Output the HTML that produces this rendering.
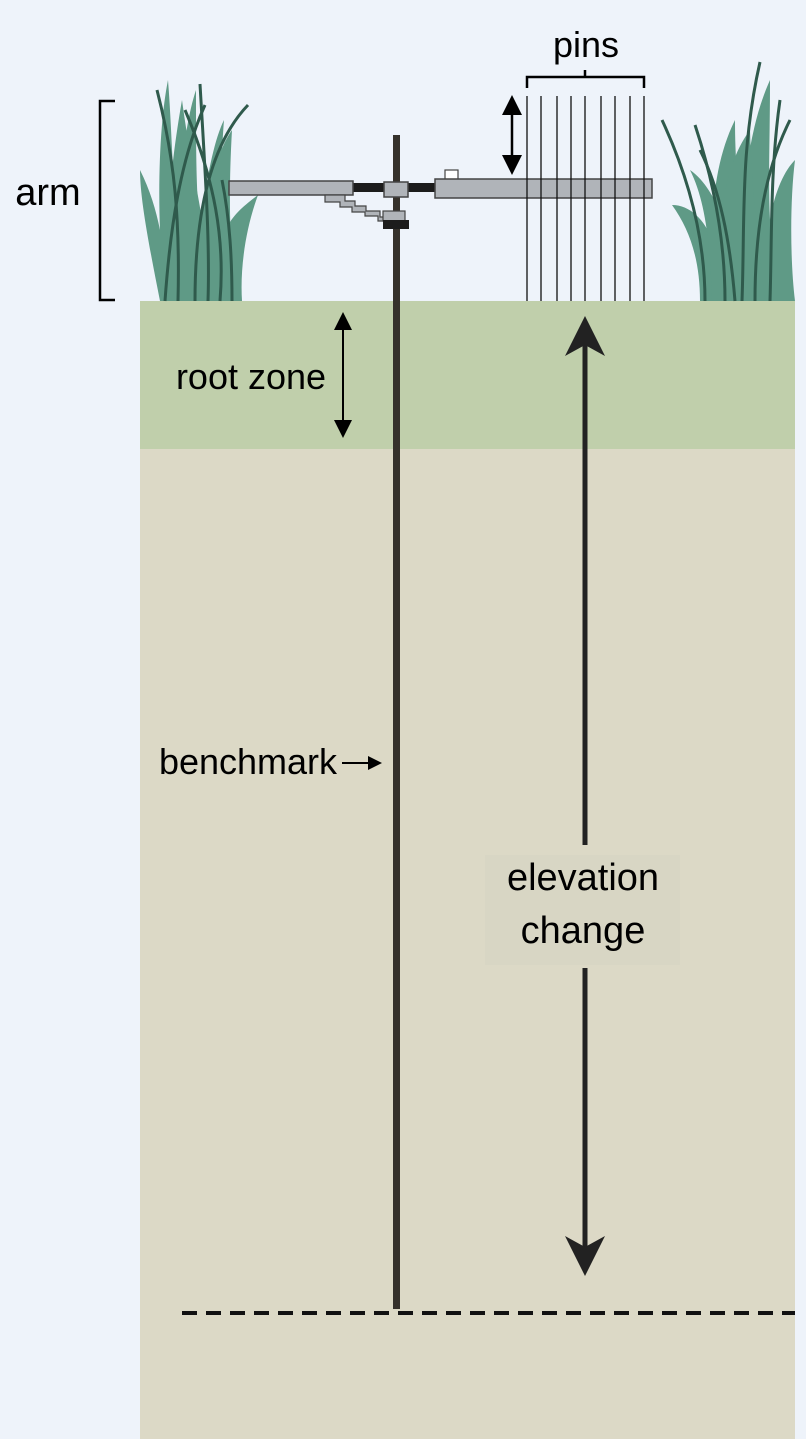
<!DOCTYPE html>
<html><head><meta charset="utf-8"><style>
html,body{margin:0;padding:0;background:#eef3fa;}
svg{display:block;}
text{font-family:"Liberation Sans",sans-serif;fill:#000;}
</style></head><body>
<svg width="806" height="1439" viewBox="0 0 806 1439" xmlns="http://www.w3.org/2000/svg">
<rect width="806" height="1439" fill="#eef3fa"/>
<rect x="140" y="301" width="655" height="148" fill="#c0cfab"/>
<rect x="140" y="449" width="655" height="990" fill="#dcd9c6"/>
<!-- grass left -->
<g fill="#5f9a86">
<path d="M160 301 C150 250 140 200 140 170 C150 190 156 210 160 230 C158 180 160 120 168 80 C172 130 172 180 178 220 C180 170 186 120 196 90 C196 150 196 190 200 230 C206 180 214 140 224 120 C220 170 222 200 226 230 C232 215 245 205 258 195 C245 230 240 270 242 301 Z"/>
<path d="M170 301 C165 240 168 180 182 100 C190 160 200 200 205 240 C210 180 218 150 232 130 C228 200 230 250 236 301 Z"/>
</g>
<g stroke="#2f5a4c" stroke-width="3" fill="none">
<path d="M165 301 C170 230 180 160 205 105"/>
<path d="M178 301 C180 220 175 160 157 90"/>
<path d="M195 301 C195 230 205 150 248 105"/>
<path d="M208 301 C210 240 205 170 200 84"/>
<path d="M220 301 C225 240 215 180 185 110"/>
<path d="M232 301 C232 260 230 220 222 180"/>
</g>
<!-- grass right -->
<g fill="#5f9a86">
<path d="M700 301 C700 260 690 230 672 205 C690 205 705 220 712 240 C712 190 720 150 735 120 C735 160 738 190 742 220 C745 170 752 120 770 80 C770 140 768 180 770 220 C775 190 785 170 795 160 C790 200 790 260 795 301 Z"/>
<path d="M712 301 C710 240 705 200 690 170 C705 180 715 200 722 215 C725 180 735 150 750 130 C752 200 760 250 765 301 Z"/>
</g>
<g stroke="#2f5a4c" stroke-width="3" fill="none">
<path d="M705 301 C705 240 690 180 662 120"/>
<path d="M725 301 C725 230 710 170 695 125"/>
<path d="M742 301 C745 220 740 150 760 62"/>
<path d="M755 301 C755 230 765 170 790 120"/>
<path d="M770 301 C772 240 770 170 780 100"/>
<path d="M735 301 C730 240 720 190 700 150"/>
</g>
<path d="M115 101 H100 V300 H115" stroke="#000" stroke-width="2.5" fill="none"/>
<text x="48" y="205" font-size="38" text-anchor="middle">arm</text>
<rect x="393" y="135" width="7" height="1174" fill="#35312b"/>
<rect x="352" y="183" width="84" height="9" fill="#1c1c1c"/>
<rect x="229" y="181" width="124" height="14" fill="#b0b4b9" stroke="#444" stroke-width="1.5"/>
<rect x="384" y="182" width="24" height="15" fill="#b0b4b9" stroke="#444" stroke-width="1.5"/>
<path d="M325 195 H345 V201 H355 V206 H366 V211 L380 211 V217 H386 V221 H378 V216 H365 V212 H352 V207 H340 V202 H325 Z" fill="#b0b4b9" stroke="#444" stroke-width="1.2"/>
<rect x="383" y="211" width="22" height="10" fill="#b0b4b9" stroke="#444" stroke-width="1.2"/>
<rect x="383" y="220" width="26" height="9" fill="#1c1c1c"/>
<rect x="445" y="170" width="13" height="10" fill="#fff" stroke="#444" stroke-width="1.2"/>
<rect x="435" y="179" width="217" height="19" fill="#b0b4b9" stroke="#444" stroke-width="1.5"/>
<g stroke="#111" stroke-width="1.3">
<line x1="527" y1="96" x2="527" y2="301"/><line x1="541" y1="96" x2="541" y2="301"/>
<line x1="557" y1="96" x2="557" y2="301"/><line x1="571" y1="96" x2="571" y2="301"/>
<line x1="585" y1="96" x2="585" y2="301"/><line x1="601" y1="96" x2="601" y2="301"/>
<line x1="615" y1="96" x2="615" y2="301"/><line x1="630" y1="96" x2="630" y2="301"/>
<line x1="644" y1="96" x2="644" y2="301"/>
</g>
<path d="M527 88 V77 H644 V88 M585 77 V70" stroke="#000" stroke-width="2.5" fill="none"/>
<text x="586" y="57" font-size="36" text-anchor="middle">pins</text>
<line x1="512" y1="108" x2="512" y2="162" stroke="#000" stroke-width="2.5"/>
<path d="M512 95 L502 115 L522 115 Z M512 175 L502 155 L522 155 Z" fill="#000"/>
<line x1="343" y1="322" x2="343" y2="428" stroke="#000" stroke-width="2"/>
<path d="M343 312 L334 330 L352 330 Z M343 438 L334 420 L352 420 Z" fill="#000"/>
<text x="251" y="389" font-size="36" text-anchor="middle">root zone</text>
<text x="248" y="774" font-size="36" text-anchor="middle">benchmark</text>
<line x1="342" y1="763" x2="372" y2="763" stroke="#000" stroke-width="2"/>
<path d="M382 763 L368 756 L368 770 Z" fill="#000"/>
<rect x="485" y="855" width="195" height="110" fill="#d8d6c4"/>
<line x1="585" y1="340" x2="585" y2="845" stroke="#222" stroke-width="5"/>
<line x1="585" y1="968" x2="585" y2="1250" stroke="#222" stroke-width="5"/>
<path d="M585 316 L565 356 L585 345 L605 356 Z M585 1276 L565 1236 L585 1247 L605 1236 Z" fill="#222"/>
<text x="583" y="890" font-size="38" text-anchor="middle">elevation</text>
<text x="583" y="943" font-size="38" text-anchor="middle">change</text>
<line x1="182" y1="1313" x2="795" y2="1313" stroke="#111" stroke-width="4" stroke-dasharray="15 9"/>
</svg>
</body></html>
